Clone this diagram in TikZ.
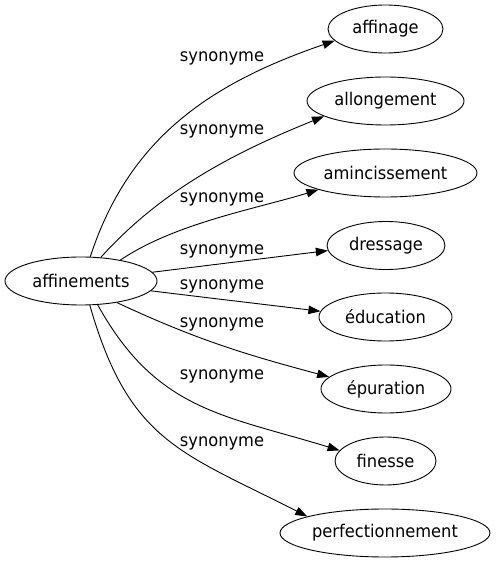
\documentclass[tikz,border=0pt]{standalone}
\usepackage{fontspec}
\setmainfont{DejaVu Sans}[FakeStretch=0.93]
\usepackage{tikz}
\usetikzlibrary{shapes.geometric,arrows.meta}

\begin{document}
\begin{tikzpicture}[
x=1pt,y=1pt,
font=\fontsize{17.5pt}{21pt}\selectfont,
word/.style={
  draw,
  ellipse,
  line width=0.9pt,
  inner sep=0pt,
  minimum height=48pt
},
syn/.style={
  line width=0.9pt,
  -{Triangle[length=12pt,width=8.5pt]}
},
lbl/.style={
  anchor=base
}
]
\useasboundingbox (0,0) rectangle (496,563);
\node[word,minimum width=152pt] at (81,282)
  (aff) {affinements};
\node[word,minimum width=115pt] at (385.5,534)
  (affinage) {affinage};
\node[word,minimum width=157pt] at (385.5,462)
  (allong) {allongement};
\node[word,minimum width=183pt] at (385.5,390)
  (aminc) {amincissement};
\node[word,minimum width=118pt] at (386,317.5)
  (dress) {dressage};
\node[word,minimum width=133pt] at (385.5,246)
  (educ) {éducation};
\node[word,minimum width=130pt] at (386,174)
  (epur) {épuration};
\node[word,minimum width=101pt] at (385.5,102)
  (fin) {finesse};
\node[word,minimum width=210pt] at (385,30)
  (perf) {perfectionnement};

\draw[syn] (aff.69) to[out=72,in=199] (affinage.193);
\draw[syn] (aff.50) to[out=48,in=202,looseness=0.9] (allong.194);
\draw[syn] (aff.28) to[out=34,in=197,looseness=0.8] (aminc.194);
\draw[syn] (aff.7) to[out=7,in=187] (dress.185);
\draw[syn] (aff.-8) to[out=-7,in=173] (educ.175);
\draw[syn] (aff.-31) to[out=-25,in=165] (epur.168);
\draw[syn] (aff.-55) to[out=-61,in=163,looseness=1.1] (fin.167);
\draw[syn] (aff.-70) to[out=-74,in=153,looseness=1.2] (perf.168);

\node[lbl] at (222,501) (l1) {synonyme};
\node[lbl] at (222,428) (l2) {synonyme};
\node[lbl] at (222,360) (l3) {synonyme};
\node[lbl] at (222,308) (l4) {synonyme};
\node[lbl] at (222,273) (l5) {synonyme};
\node[lbl] at (222,235) (l6) {synonyme};
\node[lbl] at (222,183) (l7) {synonyme};
\node[lbl] at (222,116) (l8) {synonyme};
\end{tikzpicture}
\end{document}
